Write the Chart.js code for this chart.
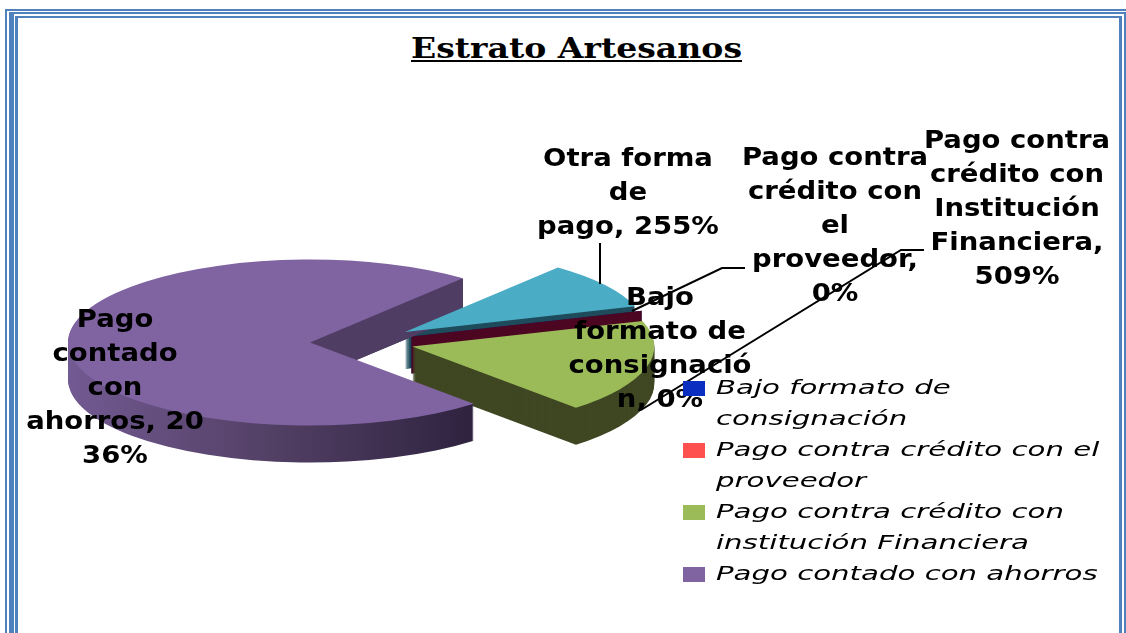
<!DOCTYPE html>
<html>
<head>
<meta charset="utf-8">
<title>Estrato Artesanos</title>
<script src="https://cdn.jsdelivr.net/npm/chart.js@4"></script>
<style>
  html, body { margin: 0; background: #fff; overflow: hidden; }
  #page { position: relative; width: 1126px; height: 633px; overflow: hidden; }
  canvas { position: absolute; left: 0; top: 0; }
  .frame { position: absolute; border: 0 solid #4f81bd; height: 700px; box-sizing: border-box; }
  #title { position: absolute; left: 411px; top: 33px; font: bold 27px "DejaVu Serif"; color: #000;
           text-decoration: underline; white-space: nowrap; transform-origin: left top; transform: scaleX(1.225); }
  #legend { position: absolute; left: 683px; top: 372px; }
  .row { position: absolute; left: 0; white-space: nowrap; }
  .swatch { position: absolute; left: 0; width: 22px; height: 15px; }
  .txt { position: absolute; left: 33px; top: 0; font: italic 20px/31px "DejaVu Sans"; color: #000;
         white-space: nowrap; transform-origin: left top; transform: scaleX(1.46); }
</style>
</head>
<body>
<div id="page">
  <div class="frame" style="left:5px;top:9px;width:1130px;border-width:2px 0 0 2px"></div>
  <div class="frame" style="left:9px;top:12px;width:1117px;border-width:2px 2px 0 5px"></div>
  <div class="frame" style="left:15px;top:16px;width:1107px;border-width:2px 3px 0 3px"></div>
  <div id="title">Estrato Artesanos</div>
  <canvas id="myChart" width="1126" height="633"></canvas>
  <div id="legend"></div>
</div>
<script>
const categories = [
  "Bajo formato de consignación",
  "Pago contra crédito con el proveedor",
  "Pago contra crédito con institución Financiera",
  "Pago contado con ahorros",
  "Otra forma de pago",
];
const values = [0, 0, 5.09, 20.36, 2.55];

// wrapped text of the data labels, same order as categories
const labelLines = [
  ["Bajo", "formato de", "consignació", "n, 0%"],
  ["Pago contra", "crédito con", "el", "proveedor,", "0%"],
  ["Pago contra", "crédito con", "Institución", "Financiera,", "509%"],
  ["Pago", "contado", "con", "ahorros, 20", "36%"],
  ["Otra forma", "de", "pago, 255%"],
];
const legendLines = [
  ["Bajo formato de", "consignación"],
  ["Pago contra crédito con el", "proveedor"],
  ["Pago contra crédito con", "institución Financiera"],
  ["Pago contado con ahorros"],
];

const topColors = ["#0a2fc0", "#c0504d", "#9bbb59", "#8064a2", "#4bacc6"];
const sideColors = ["#0a1f70", "#4d0622", "#3f4723", "#4f3d64", "#1f4c5c"];
const legendColors = ["#0a2fc0", "#ff5050", "#9bbb59", "#8064a2"];

// label centre x and first line centre y
const labelPos = [[660, 298], [835, 158], [1017, 141], [115, 320], [628, 159]];
const lineGap = 34;
const leaders = [
  [[600, 243], [600, 284]],
  [[745, 268], [722, 268], [632, 311]],
  [[924, 250], [901, 250], [641, 410]],
];

const squash = 83 / 242;
const depth = 37;
const explode = 52;
const pieY = 342;

function sector(ctx, el, dy) {
  const a = el.getProps(["x", "y", "startAngle", "endAngle", "outerRadius"], true);
  const mid = (a.startAngle + a.endAngle) / 2;
  const ox = a.x + Math.cos(mid) * explode;
  const oy = a.y + Math.sin(mid) * explode + dy;
  ctx.beginPath();
  ctx.moveTo(ox, oy);
  ctx.arc(ox, oy, a.outerRadius, a.startAngle, a.endAngle);
  ctx.closePath();
  return { ox, oy, a };
}

function flatWall(ctx, el, angle, color) {
  const s = sector(ctx, el, 0);
  const rx = s.ox + Math.cos(angle) * s.a.outerRadius;
  const ry = s.oy + Math.sin(angle) * s.a.outerRadius;
  const h = depth / squash;
  ctx.beginPath();
  ctx.moveTo(s.ox, s.oy);
  ctx.lineTo(rx, ry);
  ctx.lineTo(rx, ry + h);
  ctx.lineTo(s.ox, s.oy + h);
  ctx.closePath();
  ctx.fillStyle = color;
  ctx.fill();
}

const pie3d = {
  id: "pie3d",
  // the slices come from the chart's own arc elements, squashed and pulled apart here
  beforeDatasetsDraw(chart) {
    const ctx = chart.ctx;
    const arcs = chart.getDatasetMeta(0).data;
    ctx.save();
    ctx.translate(0, pieY);
    ctx.scale(1, squash);
    ctx.translate(0, -pieY);

    const grad = ctx.createLinearGradient(68, 0, 470, 0);
    grad.addColorStop(0, "#725a92");
    grad.addColorStop(0.5, "#534065");
    grad.addColorStop(1, "#2f2340");

    // back to front: blue, the two empty slices, green, purple
    [4, 0, 1, 2, 3].forEach((i) => {
      const el = arcs[i];
      if (values[i] === 0) {
        flatWall(ctx, el, el.startAngle, sideColors[i]);
        return;
      }
      ctx.fillStyle = i === 3 ? grad : sideColors[i];
      for (let d = depth; d > 0; d--) {
        sector(ctx, el, d / squash);
        ctx.fill();
      }
      if (i === 3) flatWall(ctx, el, el.endAngle, sideColors[i]);
    });

    [4, 2, 3].forEach((i) => {
      sector(ctx, arcs[i], 0);
      ctx.fillStyle = topColors[i];
      ctx.fill();
    });
    ctx.restore();
    return false;
  },
  afterDraw(chart) {
    const ctx = chart.ctx;
    ctx.save();
    ctx.strokeStyle = "#000";
    ctx.lineWidth = 2;
    leaders.forEach((pts) => {
      ctx.beginPath();
      pts.forEach((p, i) => (i ? ctx.lineTo(p[0], p[1]) : ctx.moveTo(p[0], p[1])));
      ctx.stroke();
    });
    ctx.fillStyle = "#000";
    ctx.font = 'bold 25px "DejaVu Sans"';
    ctx.textAlign = "center";
    ctx.textBaseline = "middle";
    labelLines.forEach((lines, i) => {
      lines.forEach((t, j) => {
        ctx.save();
        ctx.translate(labelPos[i][0], labelPos[i][1] + j * lineGap);
        ctx.scale(1.1, 1); // the original text is stretched sideways
        ctx.fillText(t, 0, 0);
        ctx.restore();
      });
    });
    ctx.restore();
  },
};

const myChart = new Chart(document.getElementById("myChart"), {
  type: "pie",
  data: {
    labels: categories,
    datasets: [
      {
        data: values,
        backgroundColor: topColors,
        borderWidth: 0,
      },
    ],
  },
  options: {
    responsive: false,
    animation: false,
    events: [],
    rotation: 72,
    layout: { padding: { left: 120, right: 522, top: 100, bottom: 49 } },
    plugins: {
      legend: { display: false },
      title: { display: false },
      tooltip: { enabled: false },
    },
  },
  plugins: [pie3d],
});

// legend sits on top of the chart, one row per wrapped line
const legendBox = document.getElementById("legend");
let rowTop = 0;
legendLines.forEach((lines, i) => {
  const sw = document.createElement("div");
  sw.className = "swatch";
  sw.style.top = rowTop + 9 + "px";
  sw.style.background = legendColors[i];
  legendBox.appendChild(sw);
  lines.forEach((t) => {
    const row = document.createElement("div");
    row.className = "row";
    row.style.top = rowTop + "px";
    const txt = document.createElement("div");
    txt.className = "txt";
    txt.textContent = t;
    row.appendChild(txt);
    legendBox.appendChild(row);
    rowTop += 31;
  });
});
</script>
</body>
</html>
